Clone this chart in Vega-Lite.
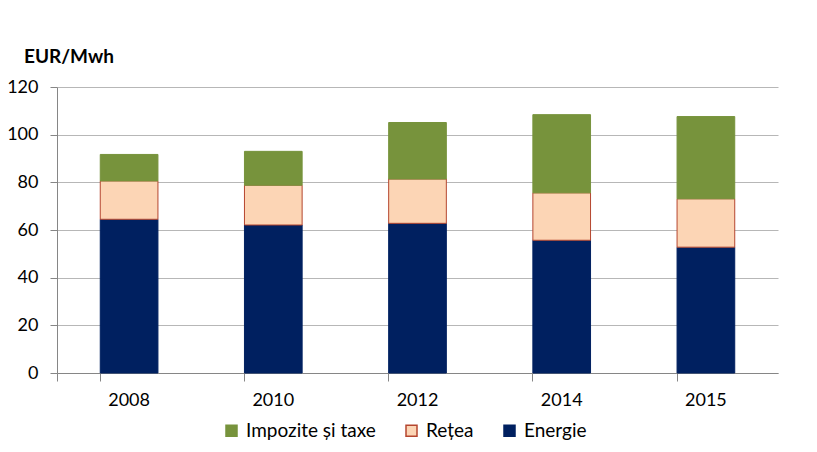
{
  "$schema": "https://vega.github.io/schema/vega-lite/v6.json",
  "autosize": {"type": "none"},
  "width": 721,
  "height": 286,
  "padding": {"left": 57, "top": 87, "right": 39, "bottom": 79},
  "background": "white",
  "config": {
    "view": {"stroke": null},
    "font": "Lato",
    "axis": {"labelFont": "Lato", "labelFontSize": 18, "labelColor": "#000000"},
    "legend": {"labelFont": "Lato", "labelFontSize": 19, "labelColor": "#000000"}
  },
  "title": {
    "text": "EUR/Mwh",
    "anchor": "start",
    "frame": "group",
    "dx": -33,
    "offset": 11,
    "font": "Lato",
    "fontSize": 19,
    "fontWeight": "bold",
    "color": "#000000"
  },
  "data": {
    "values": [
      {"year": "2008", "series": "Energie", "k": 1, "value": 64.5},
      {"year": "2008", "series": "Rețea", "k": 2, "value": 16.1},
      {"year": "2008", "series": "Impozite și taxe", "k": 3, "value": 11.1},
      {"year": "2010", "series": "Energie", "k": 1, "value": 62.1},
      {"year": "2010", "series": "Rețea", "k": 2, "value": 16.7},
      {"year": "2010", "series": "Impozite și taxe", "k": 3, "value": 14.2},
      {"year": "2012", "series": "Energie", "k": 1, "value": 62.8},
      {"year": "2012", "series": "Rețea", "k": 2, "value": 18.6},
      {"year": "2012", "series": "Impozite și taxe", "k": 3, "value": 23.7},
      {"year": "2014", "series": "Energie", "k": 1, "value": 55.7},
      {"year": "2014", "series": "Rețea", "k": 2, "value": 19.9},
      {"year": "2014", "series": "Impozite și taxe", "k": 3, "value": 32.8},
      {"year": "2015", "series": "Energie", "k": 1, "value": 52.8},
      {"year": "2015", "series": "Rețea", "k": 2, "value": 20.3},
      {"year": "2015", "series": "Impozite și taxe", "k": 3, "value": 34.5}
    ]
  },
  "mark": {"type": "bar", "strokeWidth": 1},
  "encoding": {
    "x": {
      "field": "year",
      "type": "nominal",
      "scale": {"paddingInner": 0.6, "paddingOuter": 0.3},
      "axis": {
        "title": null,
        "labelAngle": 0,
        "bandPosition": 0,
        "tickExtra": true,
        "tickSize": 8,
        "tickColor": "#868686",
        "domainColor": "#868686",
        "labelPadding": 10,
        "grid": false
      }
    },
    "y": {
      "field": "value",
      "type": "quantitative",
      "stack": "zero",
      "scale": {"domain": [0, 120], "nice": false},
      "axis": {
        "title": null,
        "values": [0, 20, 40, 60, 80, 100, 120],
        "tickSize": 7,
        "tickColor": "#868686",
        "domainColor": "#868686",
        "gridColor": "#b7b7b7",
        "labelPadding": 12
      }
    },
    "color": {
      "field": "series",
      "type": "nominal",
      "scale": {
        "domain": ["Impozite și taxe", "Rețea", "Energie"],
        "range": ["#77933C", "#FCD5B5", "#002060"]
      },
      "legend": {
        "title": null,
        "orient": "none",
        "legendX": 165,
        "legendY": 334,
        "direction": "horizontal",
        "symbolType": "square",
        "symbolSize": 121,
        "columnPadding": 26,
        "labelOffset": 5
      }
    },
    "stroke": {
      "field": "series",
      "type": "nominal",
      "scale": {
        "domain": ["Impozite și taxe", "Rețea", "Energie"],
        "range": ["#77933C", "#B5462F", "#002060"]
      },
      "legend": {
        "title": null,
        "orient": "none",
        "legendX": 165,
        "legendY": 334,
        "direction": "horizontal",
        "symbolType": "square",
        "symbolSize": 121,
        "columnPadding": 26,
        "labelOffset": 5
      }
    },
    "order": {"field": "k", "type": "quantitative"}
  }
}
